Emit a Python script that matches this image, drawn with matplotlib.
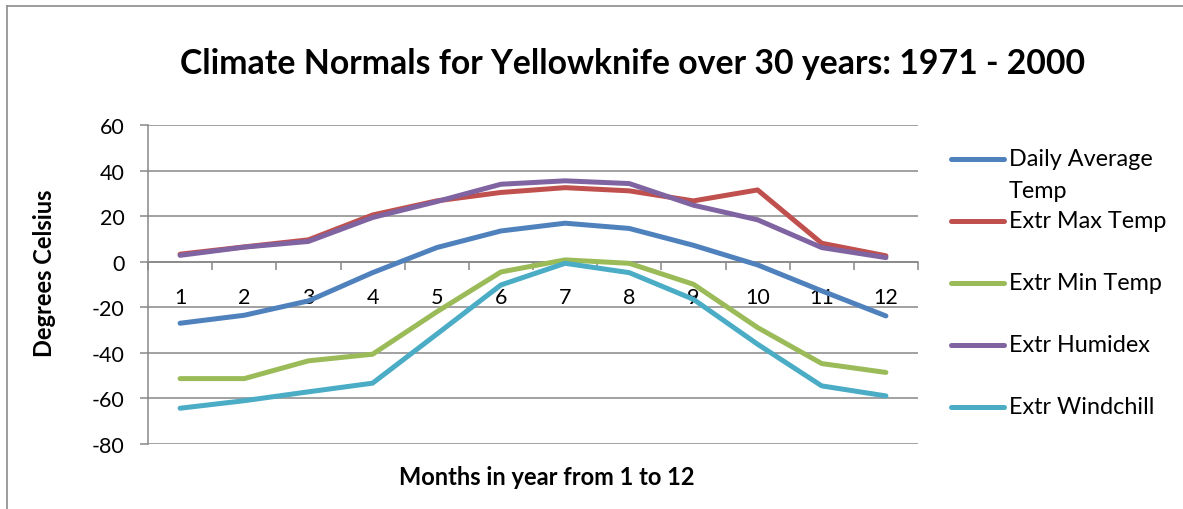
import matplotlib
matplotlib.use("Agg")
import matplotlib.pyplot as plt
from matplotlib.lines import Line2D

months = list(range(1, 13))
series_names = ["Daily Average\nTemp", "Extr Max Temp", "Extr Min Temp", "Extr Humidex", "Extr Windchill"]
daily_avg = [-27.0, -23.5, -17.2, -4.8, 6.2, 13.5, 16.9, 14.6, 7.2, -1.4, -12.8, -23.8]
extr_max = [3.3, 6.5, 9.6, 20.5, 26.7, 30.4, 32.5, 31.1, 26.7, 31.5, 8.1, 2.6]
extr_min = [-51.3, -51.3, -43.5, -40.6, -22.0, -4.5, 0.8, -0.7, -9.9, -28.9, -44.7, -48.6]
extr_humidex = [2.8, 6.4, 8.9, 19.4, 26.4, 34.0, 35.5, 34.3, 24.8, 18.4, 6.2, 1.8]
extr_windchill = [-64.3, -61.0, -57.1, -53.3, -31.8, -10.2, -0.7, -4.8, -16.5, -36.2, -54.5, -58.9]
yticks = [60, 40, 20, 0, -20, -40, -60, -80]

colors = ["#4F81BD", "#C0504D", "#9BBB59", "#8064A2", "#4BACC6"]
series = [daily_avg, extr_max, extr_min, extr_humidex, extr_windchill]

plt.rcParams['font.family'] = ['Lato', 'DejaVu Sans']

W, H = 1183, 510
fig = plt.figure(figsize=(W / 100, H / 100), dpi=100)
fig.patch.set_facecolor("white")

# outer chart border (only top & left visible)
border_c = "#8C8C8C"
fig.add_artist(Line2D([7 / W, 1.0], [1 - 7 / H, 1 - 7 / H], transform=fig.transFigure,
                      color=border_c, linewidth=1.2))
fig.add_artist(Line2D([7 / W, 7 / W], [0.0, 1 - 7 / H], transform=fig.transFigure,
                      color=border_c, linewidth=1.2))

ax = fig.add_axes([148 / W, 1 - 445 / H, (918 - 148) / W, (445 - 126) / H])
grid_c = "#878787"

for i in range(5):
    ax.plot(months, series[i], color=colors[i], linewidth=3.6, solid_capstyle="round",
            solid_joinstyle="round", zorder=3 + (1 if i == 3 else 0))

ax.set_xlim(0.5, 12.5)
ax.set_ylim(-80, 60)
ax.set_yticks(yticks)
ax.set_yticklabels([str(v) for v in yticks], fontsize=15.5)
ax.yaxis.grid(True, color=grid_c, linewidth=1.1)
ax.set_axisbelow(True)

ax.spines['top'].set_visible(False)
ax.spines['right'].set_visible(False)
ax.spines['left'].set_color(grid_c)
ax.spines['left'].set_linewidth(1.1)
ax.spines['bottom'].set_position(('data', 0))
ax.spines['bottom'].set_color(grid_c)
ax.spines['bottom'].set_linewidth(1.1)

ax.set_xticks(months)
ax.set_xticklabels([str(m) for m in months], fontsize=15.5)
ax.set_xticks([m - 0.5 for m in months] + [12.5], minor=True)
ax.tick_params(axis='x', which='major', length=0, pad=18)
ax.tick_params(axis='x', which='minor', length=5.5, direction='out', color=grid_c, width=1.1)
ax.tick_params(axis='y', which='major', length=5.8, direction='out', color=grid_c, width=1.1, pad=11)

# titles
fig.text(633 / W, 1 - 64 / H, "Climate Normals for Yellowknife over 30 years: 1971 - 2000",
         fontsize=24.3, fontweight='bold', ha='center', va='center')
fig.text(45 / W, 1 - 273 / H, "Degrees Celsius", fontsize=17, fontweight='bold',
         rotation=90, ha='center', va='center')
fig.text(547 / W, 1 - 478 / H, "Months in year from 1 to 12", fontsize=17, fontweight='bold',
         ha='center', va='center')

# legend drawn manually
leg_y = [160, 222, 284, 346, 408]
for i, yy in enumerate(leg_y):
    yf = 1 - yy / H
    fig.add_artist(Line2D([951 / W, 1004 / W], [yf, yf], transform=fig.transFigure,
                          color=colors[i], linewidth=3.6, solid_capstyle="round"))
    parts = series_names[i].split("\n")
    fig.text(1009 / W, yf, parts[0], fontsize=16.8, ha='left', va='center')
    if len(parts) > 1:
        fig.text(1009 / W, 1 - (yy + 32) / H, parts[1], fontsize=16.8, ha='left', va='center')

fig.savefig("out.png", dpi=100)
